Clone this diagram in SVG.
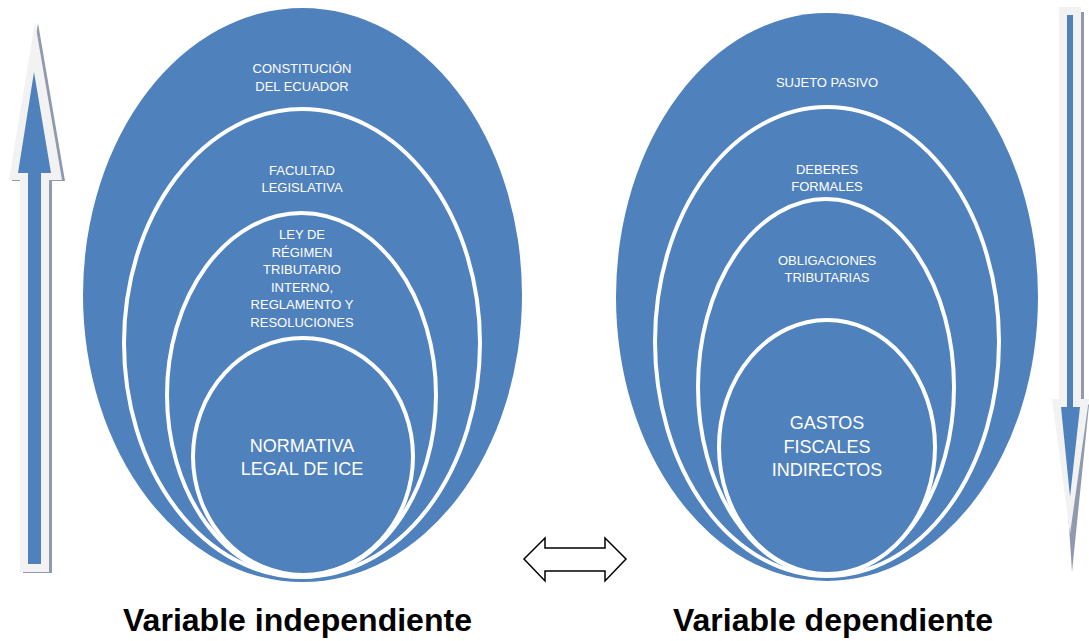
<svg xmlns="http://www.w3.org/2000/svg" width="1089" height="641" viewBox="0 0 1089 641">
<style>
.ring{fill:#4f81bd;stroke:#ffffff;stroke-width:4}
.outer{fill:#4f81bd}
.lbl{font-family:"Liberation Sans",Arial,sans-serif;font-size:13px;fill:#ffffff;text-anchor:middle}
.big{font-family:"Liberation Sans",Arial,sans-serif;font-size:18px;fill:#ffffff;text-anchor:middle}
.cap{font-family:"Liberation Sans",Arial,sans-serif;font-size:31px;font-weight:bold;fill:#000000;text-anchor:middle}
.shadow{fill:#8f9aae}
.light{fill:#f2f2f2}
.blue{fill:#4f81bd}
</style>
<rect width="1089" height="641" fill="#ffffff"/>

<g id="arrow-up">
<polygon class="shadow" points="38,23 65,181 52,181 52,573 23,573 23,181 12,181"/>
<polygon class="light" points="35,22 62,180 49,180 49,572 20,572 20,180 9,180"/>
<polygon class="blue" points="34,72 51,173 41,173 41,564 28,564 28,173 18,173"/>
</g>

<g id="arrow-down">
<polygon class="shadow" points="1062,12 1084,12 1084,399 1089,405 1072,572 1062,420"/>
<polygon class="light" points="1059,7 1081,7 1081,399 1089,399 1070,534 1052,399 1059,399"/>
<polygon class="blue" points="1067,15 1073,15 1073,407 1080,407 1070,497 1061,407 1067,407"/>
</g>

<g id="left-target">
<ellipse class="outer" cx="302.5" cy="295" rx="219.5" ry="287"/>
<ellipse class="ring" cx="302" cy="343" rx="178" ry="234"/>
<ellipse class="ring" cx="301.5" cy="395" rx="134.5" ry="182"/>
<ellipse class="ring" cx="303" cy="456.5" rx="110" ry="118.5"/>
</g>
<g id="left-labels">
<text class="lbl" x="302" y="73">CONSTITUCIÓN</text>
<text class="lbl" x="302" y="91">DEL ECUADOR</text>
<text class="lbl" x="302" y="175">FACULTAD</text>
<text class="lbl" x="302" y="192">LEGISLATIVA</text>
<text class="lbl" x="302" y="239">LEY DE</text>
<text class="lbl" x="302" y="256.5">RÉGIMEN</text>
<text class="lbl" x="302" y="274">TRIBUTARIO</text>
<text class="lbl" x="302" y="291.5">INTERNO,</text>
<text class="lbl" x="302" y="309">REGLAMENTO Y</text>
<text class="lbl" x="302" y="326.5">RESOLUCIONES</text>
<text class="big" x="302" y="452">NORMATIVA</text>
<text class="big" x="302" y="475">LEGAL DE ICE</text>
</g>

<g id="right-target">
<ellipse class="outer" cx="827" cy="297" rx="211" ry="284"/>
<ellipse class="ring" cx="827" cy="341.5" rx="172" ry="234.5"/>
<ellipse class="ring" cx="826" cy="387" rx="128" ry="188"/>
<ellipse class="ring" cx="827" cy="447" rx="108" ry="127"/>
</g>
<g id="right-labels">
<text class="lbl" x="827" y="87">SUJETO PASIVO</text>
<text class="lbl" x="827" y="174">DEBERES</text>
<text class="lbl" x="827" y="191">FORMALES</text>
<text class="lbl" x="827" y="265">OBLIGACIONES</text>
<text class="lbl" x="827" y="282">TRIBUTARIAS</text>
<text class="big" x="827" y="429">GASTOS</text>
<text class="big" x="827" y="453">FISCALES</text>
<text class="big" x="827" y="476">INDIRECTOS</text>
</g>

<g id="connectors">
<polygon points="524,559 545,538 545,548 605,548 605,538 626,559 605,581 605,571 545,571 545,581" fill="#ffffff" stroke="#000000" stroke-width="1.5" stroke-linejoin="miter"/>
</g>

<g id="captions">
<text class="cap" x="297.5" y="631" textLength="349" lengthAdjust="spacingAndGlyphs">Variable independiente</text>
<text class="cap" x="833" y="631" textLength="320" lengthAdjust="spacingAndGlyphs">Variable dependiente</text>
</g>
</svg>
